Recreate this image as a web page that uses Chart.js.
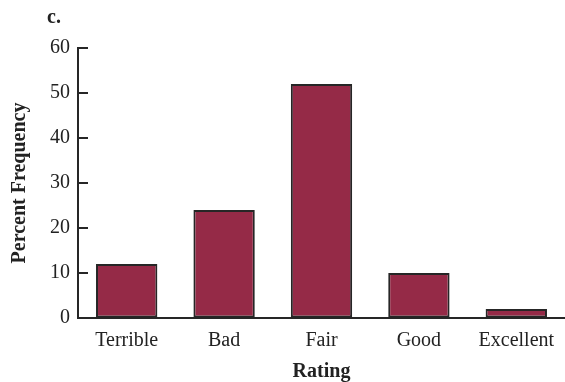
<!DOCTYPE html>
<html>
<head>
<meta charset="utf-8">
<script src="https://cdn.jsdelivr.net/npm/chart.js@4/dist/chart.umd.min.js"></script>
<style>
  html, body { margin: 0; padding: 0; background: #fff; }
  #wrap { position: relative; width: 565px; height: 382px; }
  #panel {
    position: absolute; left: 47px; top: 5px;
    font: bold 20px "Liberation Serif", serif; color: #222;
  }
</style>
</head>
<body>
<div id="wrap">
  <div id="panel">c.</div>
  <canvas id="chart" width="565" height="382"></canvas>
</div>
<script>
// ---- data ----
const ratings = ['Terrible', 'Bad', 'Fair', 'Good', 'Excellent'];
const percentFrequency = [12, 24, 52, 10, 2];
const yTicks = [0, 10, 20, 30, 40, 50, 60];

const INK = '#262626';
const BAR_FILL = '#952a47';
const SERIF = '"Liberation Serif", "Times New Roman", serif';

// inward tick marks on the y axis
const innerTicks = {
    id: 'innerTicks',
    afterDatasetsDraw(chart) {
        const y = chart.scales.y;
        const ctx = chart.ctx;
        ctx.save();
        ctx.strokeStyle = INK;
        ctx.lineWidth = 2;
        yTicks.forEach(v => {
            if (v === 0) return;
            const py = Math.round(y.getPixelForValue(v));
            ctx.beginPath();
            ctx.moveTo(y.right, py);
            ctx.lineTo(y.right + 10, py);
            ctx.stroke();
        });
        ctx.restore();
    }
};

new Chart(document.getElementById('chart'), {
    type: 'bar',
    data: {
        labels: ratings,
        datasets: [{
            data: percentFrequency,
            backgroundColor: BAR_FILL,
            borderColor: INK,
            borderWidth: 2,
            borderSkipped: false,
            categoryPercentage: 1,
            barPercentage: 0.63
        }]
    },
    options: {
        responsive: false,
        animation: false,
        layout: { padding: { top: 48, right: 0, left: 0, bottom: 0 } },
        plugins: {
            legend: { display: false },
            tooltip: { enabled: false }
        },
        scales: {
            x: {
                grid: { display: false },
                border: { color: INK, width: 2 },
                ticks: {
                    color: '#222',
                    padding: 3,
                    font: { family: SERIF, size: 20 }
                },
                title: {
                    display: true,
                    text: 'Rating',
                    color: '#222',
                    padding: { top: 8, bottom: 0 },
                    font: { family: SERIF, size: 20, weight: 'bold', lineHeight: 1.0 }
                },
                afterFit(scale) { scale.height = 64; }
            },
            y: {
                min: 0,
                max: 60,
                afterBuildTicks(scale) {
                    scale.ticks = yTicks.map(v => ({ value: v }));
                },
                grid: { drawOnChartArea: false, drawTicks: false },
                border: { color: INK, width: 2 },
                ticks: {
                    color: '#222',
                    padding: 8,
                    font: { family: SERIF, size: 20 }
                },
                title: {
                    display: true,
                    text: 'Percent Frequency',
                    color: '#222',
                    padding: { top: 8, bottom: 8 },
                    font: { family: SERIF, size: 20, weight: 'bold' }
                },
                afterFit(scale) { scale.width = 78; }
            }
        }
    },
    plugins: [innerTicks]
});
</script>
</body>
</html>
